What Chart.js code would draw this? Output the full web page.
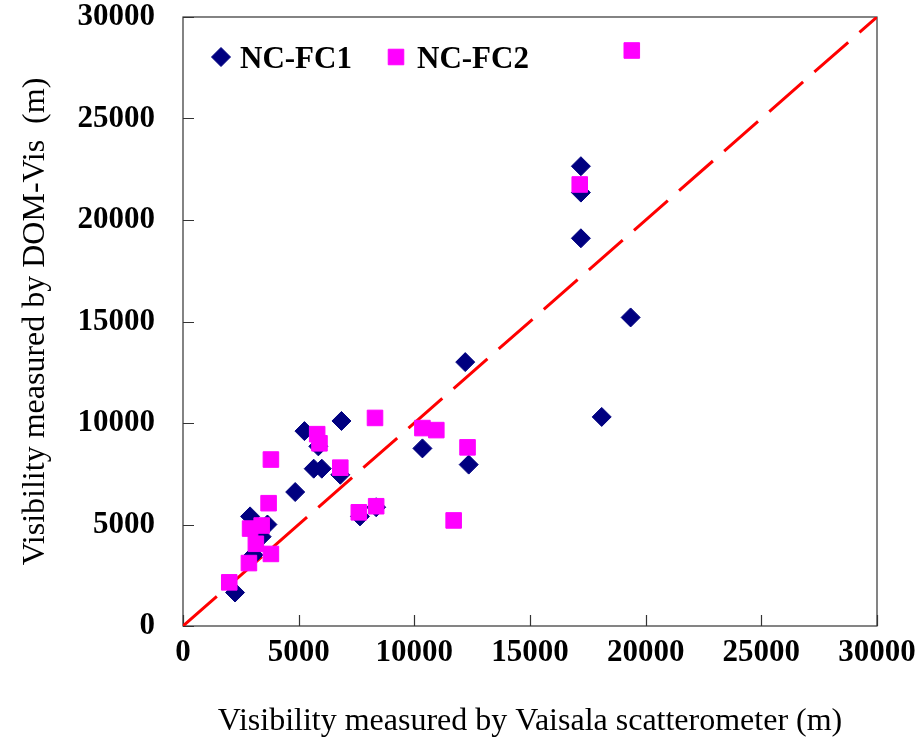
<!DOCTYPE html>
<html><head><meta charset="utf-8">
<script src="https://cdn.jsdelivr.net/npm/chart.js@4/dist/chart.umd.min.js"></script>
<style>html,body{margin:0;padding:0;background:#fff;}canvas{display:block;}</style>
</head><body>
<canvas id="c" width="923" height="747"></canvas>
<script>
// ---- data ----
const seriesNames = ['NC-FC1', 'NC-FC2'];
const fc1X = [2250, 2900, 3650, 3400, 3050, 4850, 5250, 5850, 5650, 6000, 6850, 6800, 7650, 8350, 10350, 12200, 12350, 17200, 17200, 17200, 19350, 18100];
const fc1Y = [1650, 5400, 5000, 4400, 3500, 6600, 9600, 8850, 7750, 7750, 10100, 7450, 5400, 5850, 8750, 13000, 7950, 22650, 21350, 19100, 15200, 10300];
const fc2X = [2000, 2850, 3150, 3800, 2900, 3400, 3700, 3800, 5800, 5900, 6800, 7600, 8350, 8300, 10350, 10950, 12300, 11700, 17150, 19400];
const fc2Y = [2150, 3100, 4050, 3550, 4800, 4950, 6050, 8200, 9450, 9000, 7800, 5600, 5900, 10250, 9750, 9650, 8800, 5200, 21750, 28350];
const refLineX = [0, 30000];
const refLineY = [0, 30000];
const axisMin = 0, axisMax = 30000, axisStep = 5000;
const xTitle = 'Visibility measured by Vaisala scatterometer (m)';
const yTitle = 'Visibility measured by DOM-Vis  (m)';

const toPts = (xs, ys) => xs.map((x, i) => ({x: x, y: ys[i]}));
const SERIF = '"Liberation Serif", "Times New Roman", serif';

const framePlugin = {
  id: 'frame',
  beforeDatasetsDraw(chart) {
    const {ctx, chartArea: a, scales} = chart;
    ctx.save();
    ctx.strokeStyle = '#333';
    ctx.lineWidth = 1.2;
    ctx.strokeRect(a.left, a.top, a.right - a.left, a.bottom - a.top);
    const tl = 11;
    ctx.beginPath();
    scales.x.ticks.forEach(t => {
      const px = Math.round(scales.x.getPixelForValue(t.value)) + 0.5;
      ctx.moveTo(px, a.bottom); ctx.lineTo(px, a.bottom - tl);
    });
    scales.y.ticks.forEach(t => {
      const py = Math.round(scales.y.getPixelForValue(t.value)) + 0.5;
      ctx.moveTo(a.left, py); ctx.lineTo(a.left + tl, py);
    });
    ctx.stroke();
    ctx.restore();
  }
};

const legendPlugin = {
  id: 'insideLegend',
  afterDraw(chart) {
    const {ctx, chartArea: a} = chart;
    const ds = chart.data.datasets;
    const items = [
      {d: ds[1], mx: a.left + 38, tx: a.left + 57},
      {d: ds[0], mx: a.left + 213, tx: a.left + 234}
    ];
    const cy = a.top + 40;
    ctx.save();
    items.forEach(it => {
      ctx.fillStyle = it.d.backgroundColor;
      ctx.strokeStyle = it.d.borderColor;
      ctx.lineWidth = 1;
      Chart.helpers.drawPoint(ctx, {pointStyle: it.d.pointStyle, radius: it.d.pointRadius, borderWidth: 1, rotation: 0}, it.mx, cy);
      ctx.fillStyle = '#000';
      ctx.font = 'bold 31px ' + SERIF;
      ctx.textBaseline = 'alphabetic';
      ctx.textAlign = 'left';
      ctx.fillText(it.d.label, it.tx, a.top + 51);
    });
    ctx.restore();
  }
};

const tickFont = {family: SERIF, size: 31, weight: 'bold'};
const titleFont = {family: SERIF, size: 32, weight: 'normal'};

new Chart(document.getElementById('c').getContext('2d'), {
  type: 'scatter',
  data: {
    datasets: [
      {label: seriesNames[1], data: toPts(fc2X, fc2Y), pointStyle: 'rect', pointRadius: 11, pointHoverRadius: 11,
       backgroundColor: '#ff00ff', borderColor: '#ff00ff', borderWidth: 1, order: 1},
      {label: seriesNames[0], data: toPts(fc1X, fc1Y), pointStyle: 'rectRot', pointRadius: 9.5, pointHoverRadius: 9.5,
       backgroundColor: '#000080', borderColor: '#000080', borderWidth: 1, order: 2},
      {type: 'line', label: '1:1', data: toPts(refLineX, refLineY), borderColor: '#ff0000', borderWidth: 3,
       borderDash: [45, 15], pointRadius: 0, showLine: true, fill: false, order: 3}
    ]
  },
  options: {
    responsive: false, animation: false, devicePixelRatio: 1, events: [],
    layout: {padding: {top: 17, right: 46, left: 0, bottom: 0}},
    plugins: {legend: {display: false}, tooltip: {enabled: false}},
    scales: {
      x: {
        type: 'linear', min: axisMin, max: axisMax,
        ticks: {stepSize: axisStep, color: '#000', font: tickFont, padding: 0, maxRotation: 0, callback: v => String(v)},
        grid: {display: false}, border: {display: false},
        title: {display: true, text: xTitle, color: '#000', font: titleFont, padding: {top: 0, bottom: 6}},
        afterFit(s) { s.height = 121; s.paddingLeft = 0; s.paddingRight = 0; }
      },
      y: {
        type: 'linear', min: axisMin, max: axisMax,
        ticks: {stepSize: axisStep, color: '#000', font: tickFont, padding: 20, callback: v => String(v)},
        grid: {display: false}, border: {display: false},
        title: {display: true, text: yTitle, color: '#000', font: titleFont, padding: {top: 16, bottom: 0}},
        afterFit(s) { s.width = 183; s.paddingTop = 0; s.paddingBottom = 0; }
      }
    }
  },
  plugins: [framePlugin, legendPlugin]
});
</script>
</body></html>
